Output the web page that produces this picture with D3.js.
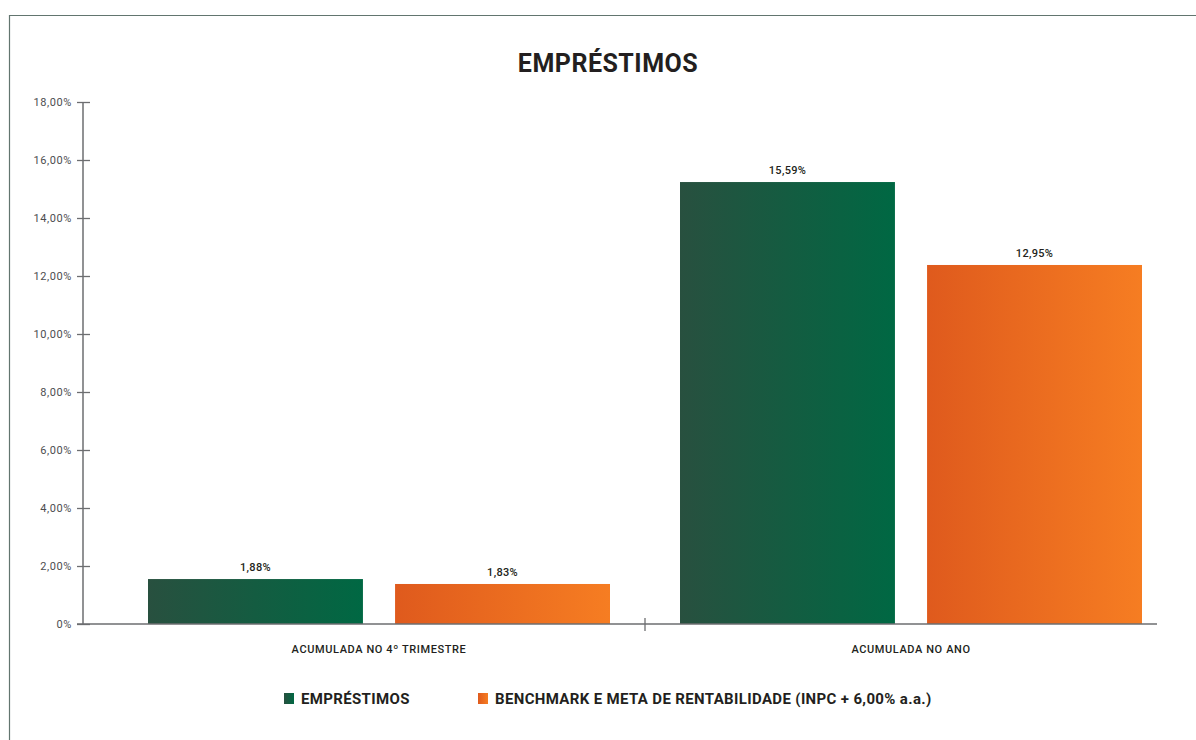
<!DOCTYPE html>
<html>
<head>
<meta charset="utf-8">
<script src="https://cdn.jsdelivr.net/npm/d3@7"></script>
<style>
  body { margin: 0; background: #fff; }
  text { font-family: Roboto, "DejaVu Sans", sans-serif; }
</style>
</head>
<body>
<svg id="chart" width="1196" height="740"></svg>
<script>
var categories = ['ACUMULADA NO 4º TRIMESTRE', 'ACUMULADA NO ANO'];
var seriesNames = ['EMPRÉSTIMOS', 'BENCHMARK E META DE RENTABILIDADE (INPC + 6,00% a.a.)'];
// bar heights as drawn in the picture
var emprestimos = [1.55, 15.24];
var benchmark = [1.38, 12.38];
// printed labels
var emprestimosLabels = ['1,88%', '15,59%'];
var benchmarkLabels = ['1,83%', '12,95%'];
var yTicks = [0, 2, 4, 6, 8, 10, 12, 14, 16, 18];

var svg = d3.select('#chart');
var defs = svg.append('defs');

function gradient(id, from, to) {
  var g = defs.append('linearGradient').attr('id', id)
    .attr('x1', '0%').attr('x2', '100%').attr('y1', '0%').attr('y2', '0%');
  g.append('stop').attr('offset', '0%').attr('stop-color', from);
  g.append('stop').attr('offset', '100%').attr('stop-color', to);
}
gradient('g-green', '#28503f', '#006843');
gradient('g-orange', '#df5a1d', '#f67d22');
var fills = ['url(#g-green)', 'url(#g-orange)'];

// frame
svg.append('path')
  .attr('d', 'M9.5,740 V15.5 H1196')
  .attr('fill', 'none')
  .attr('stroke', '#62756f')
  .attr('stroke-width', 1.2);

svg.append('text')
  .attr('x', 608).attr('y', 72)
  .attr('text-anchor', 'middle')
  .attr('font-size', 25).attr('font-weight', 700)
  .attr('letter-spacing', 0.5)
  .attr('fill', '#231f20')
  .text('EMPRÉSTIMOS');

var y = d3.scaleLinear().domain([0, 18]).range([624, 102]);
var x0 = d3.scaleBand().domain(categories).range([113, 1177]);
var x1 = d3.scaleBand().domain(seriesNames).range([35, 497]).paddingInner(0.13);

var rows = categories.map(function(c, i) {
  return { cat: c, vals: [
    { s: seriesNames[0], v: emprestimos[i], label: emprestimosLabels[i], k: 0 },
    { s: seriesNames[1], v: benchmark[i], label: benchmarkLabels[i], k: 1 }
  ] };
});

// y axis
var yAxis = d3.axisLeft(y)
  .tickValues(yTicks)
  .tickSize(6)
  .tickPadding(5)
  .tickFormat(function(d) { return d === 0 ? '0%' : d3.format('.2f')(d).replace('.', ',') + '%'; });

var ga = svg.append('g').attr('transform', 'translate(83,0)').call(yAxis);
ga.select('.domain').remove();
ga.selectAll('.tick line').attr('x1', -6).attr('x2', 7).attr('stroke', '#6d6e70').attr('stroke-width', 1.3);
ga.selectAll('.tick text').attr('font-size', 11).attr('letter-spacing', 0.6).attr('fill', '#4d4d4f');
ga.append('line').attr('x1', 0).attr('x2', 0).attr('y1', y(18)).attr('y2', y(0))
  .attr('stroke', '#6d6e70').attr('stroke-width', 1.5);

// bars
var groups = svg.selectAll('g.cat').data(rows).enter().append('g')
  .attr('class', 'cat')
  .attr('transform', function(d) { return 'translate(' + x0(d.cat) + ',0)'; });

groups.selectAll('rect').data(function(d) { return d.vals; }).enter().append('rect')
  .attr('x', function(d) { return x1(d.s); })
  .attr('width', x1.bandwidth())
  .attr('y', function(d) { return y(d.v); })
  .attr('height', function(d) { return y(0) - y(d.v); })
  .attr('fill', function(d) { return fills[d.k]; });

groups.selectAll('text.val').data(function(d) { return d.vals; }).enter().append('text')
  .attr('class', 'val')
  .attr('x', function(d) { return x1(d.s) + x1.bandwidth() / 2; })
  .attr('y', function(d) { return y(d.v) - 8; })
  .attr('text-anchor', 'middle')
  .attr('font-size', 11).attr('font-weight', 500)
  .attr('letter-spacing', 0.3)
  .attr('fill', '#231f20')
  .text(function(d) { return d.label; });

// baseline and category separator
svg.append('line').attr('x1', 77).attr('x2', 1157).attr('y1', y(0)).attr('y2', y(0))
  .attr('stroke', '#6d6e70').attr('stroke-width', 1.5);
svg.append('line').attr('x1', x0(categories[1])).attr('x2', x0(categories[1]))
  .attr('y1', y(0) - 6).attr('y2', y(0) + 7)
  .attr('stroke', '#6d6e70').attr('stroke-width', 1.3);

groups.append('text')
  .attr('x', x0.bandwidth() / 2)
  .attr('y', 653)
  .attr('text-anchor', 'middle')
  .attr('font-size', 11).attr('font-weight', 500)
  .attr('letter-spacing', 0.6)
  .attr('fill', '#231f20')
  .text(function(d) { return d.cat; });

// legend
var legendX = [284, 478];
var leg = svg.selectAll('g.leg').data(seriesNames).enter().append('g')
  .attr('class', 'leg')
  .attr('transform', function(d, i) { return 'translate(' + legendX[i] + ',693)'; });
leg.append('rect').attr('width', 10).attr('height', 11)
  .attr('fill', function(d, i) { return fills[i]; });
leg.append('text').attr('x', 17).attr('y', 11)
  .attr('font-size', 15).attr('font-weight', 700)
  .attr('letter-spacing', 0.35)
  .attr('fill', '#231f20')
  .text(function(d) { return d; });
</script>
</body>
</html>
